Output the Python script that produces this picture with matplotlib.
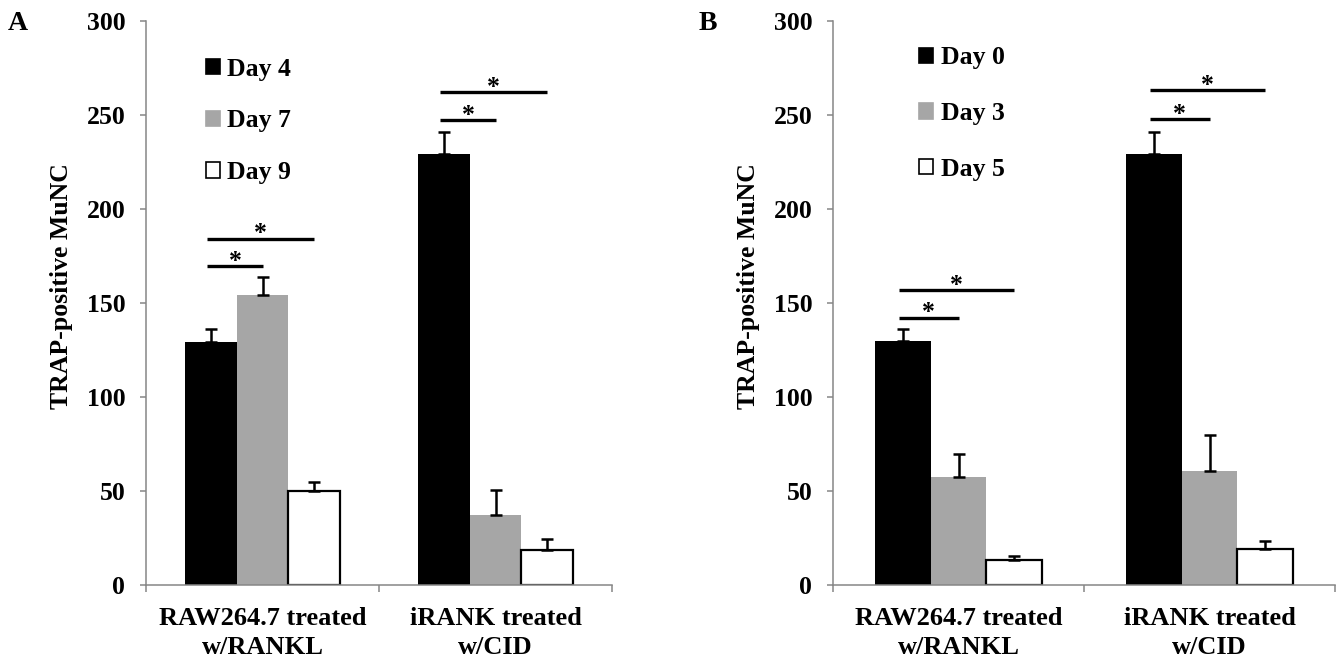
import matplotlib
matplotlib.use("Agg")
import matplotlib.pyplot as plt
from matplotlib.patches import Rectangle
import numpy as np

plt.rcParams['font.family'] = ['Liberation Serif', 'DejaVu Serif']
plt.rcParams['font.weight'] = 'bold'

# ---------------- data ----------------
categories = ["RAW264.7 treated\nw/RANKL", "iRANK treated\nw/CID"]
ylabel = "TRAP-positive MuNC"
yticks = [0, 50, 100, 150, 200, 250, 300]

# Panel A
a_series = ["Day 4", "Day 7", "Day 9"]
a_values = [[129, 229], [154, 37], [50, 18.5]]
a_errors = [[7.2, 11.8], [10, 13.7], [4.6, 5.9]]
# significance brackets: (category, bar_from, bar_to, height)
a_sig = [(0, 0, 1, 169.7), (0, 0, 2, 184.2), (1, 0, 1, 247.2), (1, 0, 2, 262)]

# Panel B
b_series = ["Day 0", "Day 3", "Day 5"]
b_values = [[129.8, 229.3], [57.6, 60.6], [13.3, 19]]
b_errors = [[6.4, 11.5], [11.9, 19.2], [2.1, 4.6]]
b_sig = [(0, 0, 1, 142.2), (0, 0, 2, 156.9), (1, 0, 1, 247.7), (1, 0, 2, 263.1)]

# ---------------- style ----------------
W, H = 1339, 661
fig = plt.figure(figsize=(W / 100, H / 100), dpi=100)
face = ["#000000", "#a6a6a6", "#ffffff"]
edge = ["none", "none", "#000000"]
spine_c = "#868686"
FS = 18.5
bar_w = 0.222


def panel(rect, series, values, errors, sig, letter, letter_x, leg_anchor, leg_spacing):
    ax = fig.add_axes(rect)
    x = np.arange(len(categories))
    offs = (np.arange(len(series)) - (len(series) - 1) / 2) * bar_w
    for i, name in enumerate(series):
        xs = x + offs[i]
        ax.bar(xs, values[i], width=bar_w, color=face[i], edgecolor=edge[i],
               linewidth=1.6 if edge[i] != "none" else 0, zorder=2)
        ax.errorbar(xs, values[i], yerr=[np.zeros(len(x)), errors[i]], fmt="none",
                    ecolor="black", elinewidth=1.8, capsize=4.5, capthick=1.8, zorder=3)
    for (c, b0, b1, h) in sig:
        x0 = c + offs[b0] - 0.015
        x1 = c + offs[b1]
        ax.plot([x0, x1], [h, h], color="black", lw=2.4, solid_capstyle="butt", zorder=3)
        ax.annotate("*", xy=((x0 + x1) / 2, h), xytext=(0, 3.5), textcoords="offset points",
                    ha="center", va="center", fontsize=FS, fontweight="bold")
    ax.set_xlim(-0.5, len(categories) - 0.5)
    ax.set_ylim(0, 300)
    ax.set_yticks(yticks)
    ax.set_yticklabels([str(v) for v in yticks], fontsize=FS, fontweight="bold")
    ax.set_xticks([-0.5, 0.5, 1.5])
    ax.set_xticklabels([])
    ax.set_xticks(x, minor=True)
    ax.set_xticklabels(categories, minor=True, fontsize=FS + 0.5, fontweight="bold",
                       linespacing=1.3)
    ax.tick_params(axis="x", which="minor", length=0, pad=16)
    ax.tick_params(axis="x", which="major", length=5, width=1.1, color=spine_c, direction="out")
    ax.tick_params(axis="y", length=4, width=1.1, color=spine_c, pad=11)
    for s in ["top", "right"]:
        ax.spines[s].set_visible(False)
    for s in ["left", "bottom"]:
        ax.spines[s].set_color(spine_c)
        ax.spines[s].set_linewidth(1.1)
    ax.text(-84 / (rect[2] * W), (585 - 286) / 564, ylabel, rotation=90, ha="center", va="center",
            transform=ax.transAxes, fontsize=FS, fontweight="bold")
    handles = [Rectangle((0, 0), 1, 1, facecolor=face[i], edgecolor="black" if i == 2 else face[i],
                         linewidth=1.2) for i in range(len(series))]
    ax.legend(handles, series, loc="upper left", bbox_to_anchor=leg_anchor, frameon=False,
              prop={"size": FS, "weight": "bold"}, handlelength=0.55, handleheight=0.55,
              handletextpad=0.3, labelspacing=leg_spacing, borderpad=0, borderaxespad=0)
    fig.text(letter_x / W, 1 - 23 / H, letter, ha="center", va="center", fontsize=20,
             fontweight="bold")
    return ax


panel([146 / W, 76 / H, 466 / W, 564 / H], a_series, a_values, a_errors, a_sig, "A", 18,
      (0.128, 0.935), 1.12)
panel([833 / W, 76 / H, 502 / W, 564 / H], b_series, b_values, b_errors, b_sig, "B", 708,
      (0.172, 0.955), 1.27)

fig.savefig("out.png", dpi=100)
